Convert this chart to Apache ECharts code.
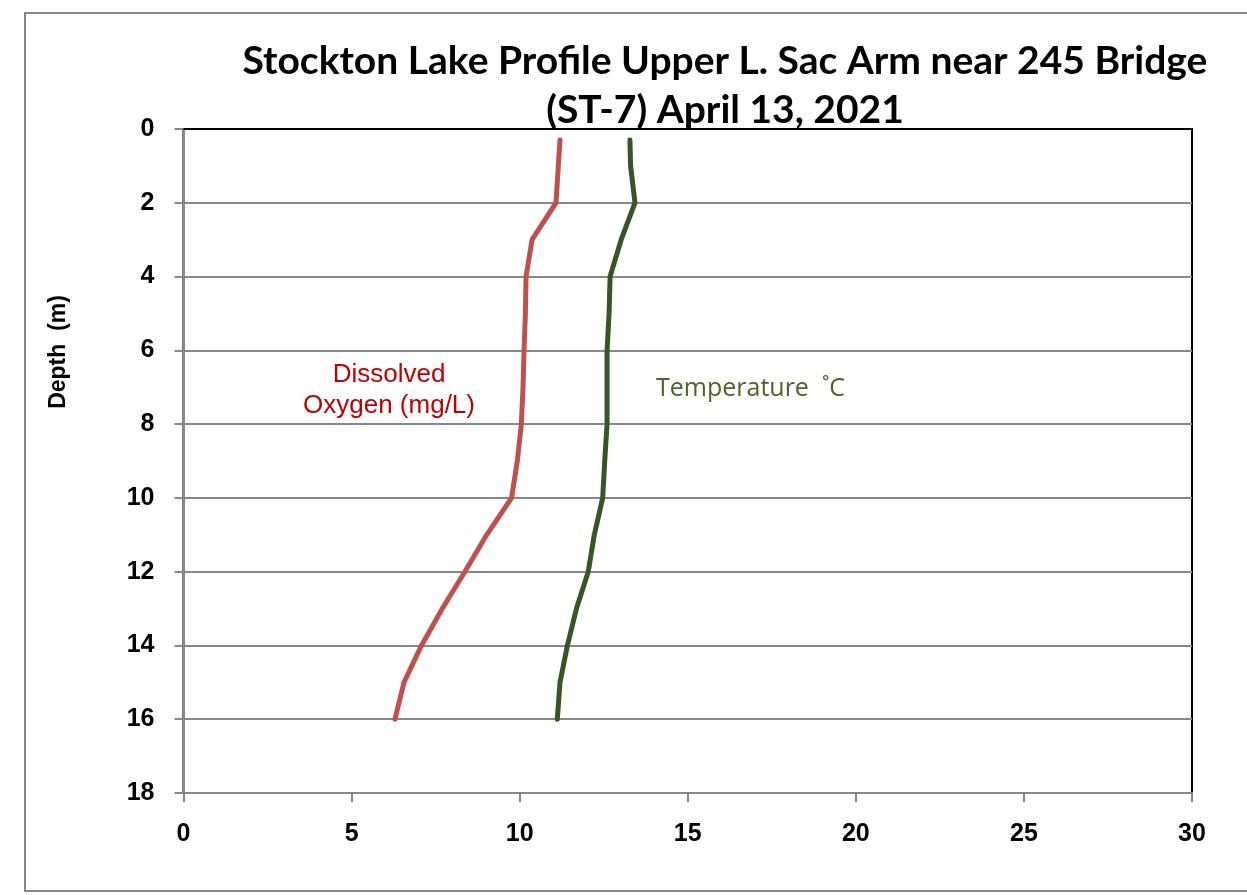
<!DOCTYPE html>
<html><head><meta charset="utf-8">
<script src="https://cdn.jsdelivr.net/npm/echarts@6/dist/echarts.min.js"></script>
<style>html,body{margin:0;padding:0;background:#fff}#c{width:1247px;height:895px}</style>
</head><body><div id="c"></div>
<script>
const depths = [0.3, 1, 2, 3, 4, 5, 6, 7, 8, 9, 10, 11, 12, 13, 14, 15, 16];
const dissolvedOxygen = [11.2, 11.15, 11.08, 10.37, 10.19, 10.17, 10.13, 10.1, 10.05, 9.93, 9.76, 9.02, 8.37, 7.7, 7.08, 6.56, 6.29];
const temperature = [13.28, 13.3, 13.43, 13.02, 12.69, 12.66, 12.6, 12.6, 12.6, 12.53, 12.47, 12.22, 12.04, 11.69, 11.42, 11.2, 11.12];
const titleLines = ['Stockton Lake Profile Upper L. Sac Arm near 245 Bridge', '(ST-7) April 13, 2021'];
const yAxisName = 'Depth  (m)';
const doLabel = 'Dissolved\nOxygen (mg/L)';
const tempLabel = 'Temperature  \u02DAC';

const chart = echarts.init(document.getElementById('c'));
const pairs = (xs) => xs.map((v, i) => [v, depths[i]]);
chart.setOption({
  animation: false,
  backgroundColor: '#fff',
  title: {
    text: titleLines.join('\n'),
    left: 720, top: 32, textAlign: 'center',
    textStyle: {fontFamily: 'Lato', fontWeight: 'bold', fontSize: 39, lineHeight: 49, color: '#000'}
  },
  grid: {left: 183.5, right: 55, top: 129, bottom: 102, show: true, borderColor: '#000', borderWidth: 2, backgroundColor: 'transparent'},
  xAxis: [{
    type: 'value', min: 0, max: 30, interval: 5,
    axisLine: {show: true, onZero: false, lineStyle: {color: '#888', width: 2}},
    axisTick: {show: true, length: 9, lineStyle: {color: '#888', width: 2}},
    splitLine: {show: false},
    axisLabel: {margin: 29, fontFamily: 'Liberation Sans', fontWeight: 'bold', fontSize: 25, color: '#000'}
  }, {
    type: 'value', min: 0, max: 30, interval: 5, position: 'top',
    axisLine: {show: true, onZero: false, lineStyle: {color: '#000', width: 2}},
    axisTick: {show: false}, axisLabel: {show: false}, splitLine: {show: false}
  }],
  yAxis: {
    type: 'value', min: 0, max: 18, interval: 2, inverse: true,
    axisLine: {show: true, onZero: false, lineStyle: {color: '#888', width: 2}},
    axisTick: {show: true, length: 9, lineStyle: {color: '#888', width: 2}},
    splitLine: {show: true, lineStyle: {color: '#888', width: 2}},
    axisLabel: {margin: 29, fontFamily: 'Liberation Sans', fontWeight: 'bold', fontSize: 25, color: '#000'}
  },
  series: [
    {type: 'line', data: pairs(dissolvedOxygen), showSymbol: false, symbol: 'none',
     lineStyle: {color: '#C0504D', width: 5, cap: 'round', join: 'round'}, z: 5},
    {type: 'line', data: pairs(temperature), showSymbol: false, symbol: 'none',
     lineStyle: {color: '#375623', width: 5, cap: 'round', join: 'round'}, z: 5}
  ],
  graphic: [
    {type: 'rect', shape: {x: 25, y: 13, width: 1240, height: 878}, style: {fill: 'none', stroke: '#888', lineWidth: 2}, z: -10},
    {type: 'text', x: 59, y: 352, rotation: Math.PI / 2, style: {text: yAxisName, fontFamily: 'Liberation Sans', fontWeight: 'bold', fontSize: 23, fill: '#000', align: 'center', verticalAlign: 'middle'}},
    {type: 'text', x: 389, y: 390, style: {text: doLabel, fontFamily: 'Liberation Sans', fontSize: 26, lineHeight: 31, fill: '#C00000', align: 'center', verticalAlign: 'middle'}},
    {type: 'text', x: 656, y: 389, style: {text: tempLabel, fontFamily: 'Open Sans', fontSize: 25, fill: '#4F6228', align: 'left', verticalAlign: 'middle'}}
  ]
});
</script></body></html>
